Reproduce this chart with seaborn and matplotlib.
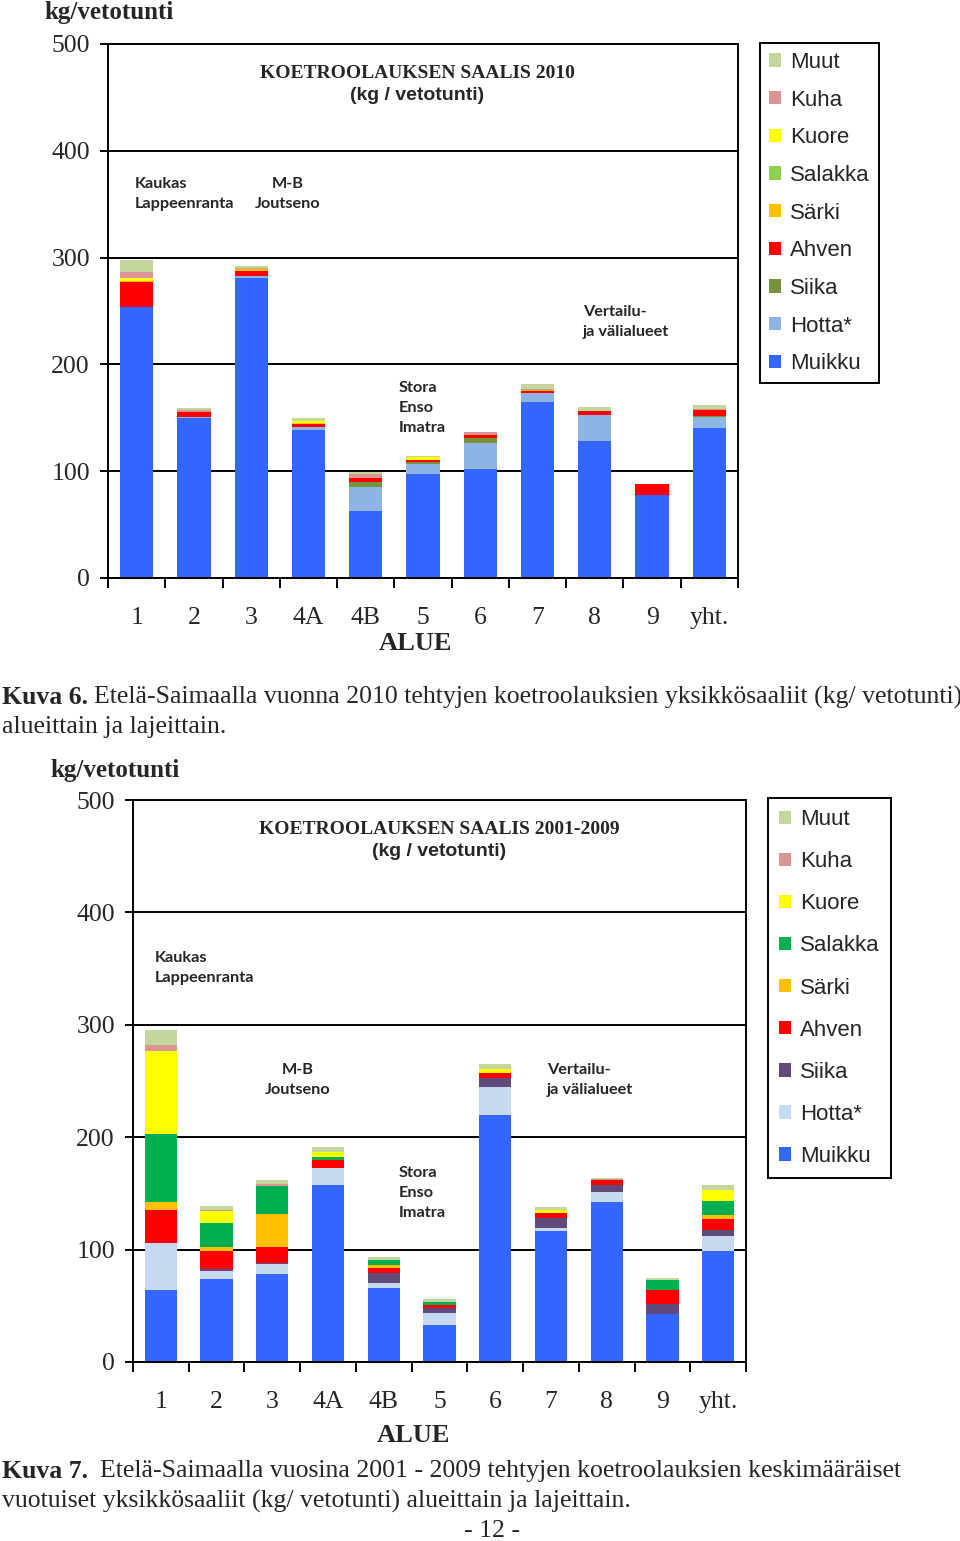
import numpy as np
import pandas as pd
import matplotlib
matplotlib.use("Agg")
import matplotlib.pyplot as plt
import seaborn as sns
from matplotlib.patches import Patch

alueet = ['1', '2', '3', '4A', '4B', '5', '6', '7', '8', '9', 'yht.']
lajit = ['Muikku', 'Hotta*', 'Siika', 'Ahven', 'Särki', 'Salakka', 'Kuore', 'Kuha', 'Muut']

# Kuva 6: vuosi 2010 (kg/vetotunti)
muikku_2010 = [254, 149.5, 280.5, 139, 63, 97, 102.5, 165, 128.5, 77.5, 140.5]
hotta_2010 = [0, 1.5, 2, 2, 22, 10, 24, 8, 24, 0, 10]
siika_2010 = [0, 0, 0, 0, 4.5, 1.5, 5, 0, 0, 0, 1]
ahven_2010 = [23, 4, 5, 3.5, 4.5, 2, 2, 2, 3.5, 10.5, 6]
sarki_2010 = [1, 0, 1.5, 1, 0, 0, 0, 1, 0, 0, 0]
salakka_2010 = [0, 0, 0, 0, 0, 0, 0, 0, 0, 0, 0]
kuore_2010 = [3, 0, 0, 1.5, 0, 2.5, 0, 0, 0, 0, 0]
kuha_2010 = [5.5, 2, 1.5, 0, 3.5, 0, 3.5, 1, 0, 0, 0.5]
muut_2010 = [11, 2, 1.5, 3, 2, 1, 0, 5, 4, 0, 4]

# Kuva 7: vuodet 2001-2009 keskiarvo
muikku_0109 = [64.5, 74, 78.5, 157.5, 65.5, 33, 219.5, 116.5, 142, 42.5, 99]
hotta_0109 = [41.5, 7, 8.5, 15.5, 4.5, 11, 25, 3, 9.5, 0, 13]
siika_0109 = [0, 2, 1, 0, 9.5, 4, 8, 9, 6, 9, 5.5]
ahven_0109 = [29, 16, 14, 6.5, 4.5, 3, 4.5, 4, 4.5, 13, 9.5]
sarki_0109 = [7, 3.5, 29.5, 0, 2, 0, 0, 0, 0, 0, 4]
salakka_0109 = [61, 21, 25, 3, 4.5, 2, 0, 0, 0, 8.5, 12.5]
kuore_0109 = [73.5, 11, 0, 4.5, 0, 0, 4, 3, 0, 0, 9.5]
kuha_0109 = [5.5, 1, 2, 0, 0, 0, 0, 0, 1, 0, 0]
muut_0109 = [13, 3.5, 3, 4, 3, 3, 4.5, 2, 1, 1.5, 4.5]

colors_2010 = {
    'Muikku': '#3366FF', 'Hotta*': '#8EB4E3', 'Siika': '#77933C',
    'Ahven': '#FF0000', 'Särki': '#FFC000', 'Salakka': '#92D050',
    'Kuore': '#FFFF00', 'Kuha': '#D99694', 'Muut': '#C3D69B',
}
colors_0109 = {
    'Muikku': '#3366FF', 'Hotta*': '#C6D9F1', 'Siika': '#604A7B',
    'Ahven': '#FF0000', 'Särki': '#FFC000', 'Salakka': '#00B050',
    'Kuore': '#FFFF00', 'Kuha': '#D99694', 'Muut': '#C3D69B',
}

SERIF = 'Liberation Serif'
SANS = 'Liberation Sans'
LABEL = 'Lato'

sns.set_theme(style="white")
plt.rcParams['font.family'] = [SERIF, 'DejaVu Serif']

W, H = 960, 1541
fig = plt.figure(figsize=(W / 100, H / 100), dpi=100)


def px_axes(left, top, right, bottom):
    return fig.add_axes([left / W, 1 - bottom / H, (right - left) / W, (bottom - top) / H])


def draw_chart(ax, data, colors):
    df = pd.DataFrame(data, index=alueet)
    cum = df[lajit].cumsum(axis=1)
    # draw cumulative totals from top layer down so lower layers overlay
    for laji in reversed(lajit):
        sns.barplot(x=alueet, y=cum[laji].values, order=alueet, color=colors[laji],
                    saturation=1, width=0.58, linewidth=0, ax=ax)
    ax.set_xlim(-0.5, len(alueet) - 0.5)
    ax.set_ylim(0, 500)
    ax.set_yticks([0, 100, 200, 300, 400, 500])
    ax.set_yticklabels(['0', '100', '200', '300', '400', '500'])
    ax.yaxis.grid(True, color='black', linewidth=1.4)
    ax.xaxis.grid(False)
    ax.set_axisbelow(True)
    for s in ax.spines.values():
        s.set_visible(True)
        s.set_color('black')
        s.set_linewidth(1.4)
    ax.set_xticks(range(len(alueet)))
    ax.set_xticklabels(alueet)
    ax.set_xticks(np.arange(-0.5, len(alueet), 1), minor=True)
    ax.tick_params(axis='x', which='major', length=0, pad=21, labelsize=18.5)
    ax.tick_params(axis='x', which='minor', length=7, width=1.4, color='black', direction='out', bottom=True)
    ax.tick_params(axis='y', length=6, width=1.4, color='black', direction='out', pad=7,
                   labelsize=18.5, left=True)
    ax.set_xlabel('')
    ax.set_ylabel('')
    for lab in ax.get_xticklabels() + ax.get_yticklabels():
        lab.set_fontfamily(SERIF)


def add_legend(colors, left, top, spacing, pad):
    handles = [Patch(facecolor=colors[l], edgecolor='none', label=l) for l in reversed(lajit)]
    leg = fig.legend(handles=handles, loc='upper left', bbox_to_anchor=(left / W, 1 - top / H),
                     bbox_transform=fig.transFigure, frameon=True, fancybox=False,
                     borderaxespad=0, handlelength=0.55, handleheight=0.55, handletextpad=0.4,
                     labelspacing=spacing, borderpad=pad, prop={'family': SANS, 'size': 16})
    leg.get_frame().set_edgecolor('black')
    leg.get_frame().set_linewidth(1.4)
    leg.get_frame().set_alpha(1)


data_2010 = {
    'Muikku': muikku_2010, 'Hotta*': hotta_2010, 'Siika': siika_2010,
    'Ahven': ahven_2010, 'Särki': sarki_2010, 'Salakka': salakka_2010,
    'Kuore': kuore_2010, 'Kuha': kuha_2010, 'Muut': muut_2010,
}
data_0109 = {
    'Muikku': muikku_0109, 'Hotta*': hotta_0109, 'Siika': siika_0109,
    'Ahven': ahven_0109, 'Särki': sarki_0109, 'Salakka': salakka_0109,
    'Kuore': kuore_0109, 'Kuha': kuha_0109, 'Muut': muut_0109,
}

# ==========================================================
# Kuva 6
# ==========================================================
ax1 = px_axes(108, 44, 738, 578)
draw_chart(ax1, data_2010, colors_2010)
add_legend(colors_2010, 760, 43, 0.75, 0.4)

fig.text(44 / W, 1 - 13 / H, 'kg/vetotunti', family=SERIF, weight='bold', size=18, va='center')
fig.text(415 / W, 1 - 643 / H, 'ALUE', family=SERIF, weight='bold', size=19, ha='center', va='center')
fig.text(417 / W, 1 - 74 / H, 'KOETROOLAUKSEN SAALIS 2010', family=SERIF, weight='bold', size=14,
         ha='center', va='center')
fig.text(417 / W, 1 - 96 / H, '(kg / vetotunti)', family=SANS, weight='bold', size=14,
         ha='center', va='center')
fig.text(135 / W, 1 - 194 / H, 'Kaukas\nLappeenranta', family=LABEL, weight='bold', size=11.7,
         ha='left', va='center', linespacing=1.55)
fig.text(288 / W, 1 - 194 / H, 'M-B\nJoutseno', family=LABEL, weight='bold', size=11.7,
         ha='center', va='center', linespacing=1.55)
fig.text(399 / W, 1 - 408 / H, 'Stora\nEnso\nImatra', family=LABEL, weight='bold', size=11.7,
         ha='left', va='center', linespacing=1.55)
fig.text(583 / W, 1 - 322 / H, 'Vertailu-\nja välialueet', family=LABEL, weight='bold', size=11.7,
         ha='left', va='center', linespacing=1.55)

fig.text(2 / W, 1 - 697 / H, 'Kuva 6.', family=SERIF, weight='bold', size=18.5, va='center')
fig.text(94 / W, 1 - 697 / H,
         'Etelä-Saimaalla vuonna 2010 tehtyjen koetroolauksien yksikkösaaliit (kg/ vetotunti)',
         family=SERIF, size=18.5, va='center')
fig.text(2 / W, 1 - 727 / H, 'alueittain ja lajeittain.', family=SERIF, size=18.5, va='center')

# ==========================================================
# Kuva 7
# ==========================================================
ax2 = px_axes(133, 800, 746, 1362)
draw_chart(ax2, data_0109, colors_0109)
add_legend(colors_0109, 768, 798, 0.95, 0.5)

fig.text(50 / W, 1 - 770 / H, 'kg/vetotunti', family=SERIF, weight='bold', size=18, va='center')
fig.text(413 / W, 1 - 1436 / H, 'ALUE', family=SERIF, weight='bold', size=19, ha='center', va='center')
fig.text(439 / W, 1 - 829 / H, 'KOETROOLAUKSEN SAALIS 2001-2009', family=SERIF, weight='bold', size=14,
         ha='center', va='center')
fig.text(439 / W, 1 - 851 / H, '(kg / vetotunti)', family=SANS, weight='bold', size=14,
         ha='center', va='center')
fig.text(155 / W, 1 - 968 / H, 'Kaukas\nLappeenranta', family=LABEL, weight='bold', size=11.7,
         ha='left', va='center', linespacing=1.55)
fig.text(298 / W, 1 - 1080 / H, 'M-B\nJoutseno', family=LABEL, weight='bold', size=11.7,
         ha='center', va='center', linespacing=1.55)
fig.text(399 / W, 1 - 1193 / H, 'Stora\nEnso\nImatra', family=LABEL, weight='bold', size=11.7,
         ha='left', va='center', linespacing=1.55)
fig.text(547 / W, 1 - 1080 / H, 'Vertailu-\nja välialueet', family=LABEL, weight='bold', size=11.7,
         ha='left', va='center', linespacing=1.55)

fig.text(2 / W, 1 - 1471 / H, 'Kuva 7.', family=SERIF, weight='bold', size=18.5, va='center')
fig.text(100 / W, 1 - 1471 / H,
         'Etelä-Saimaalla vuosina 2001 - 2009 tehtyjen koetroolauksien keskimääräiset',
         family=SERIF, size=18.5, va='center')
fig.text(2 / W, 1 - 1501 / H, 'vuotuiset yksikkösaaliit (kg/ vetotunti) alueittain ja lajeittain.',
         family=SERIF, size=18.5, va='center')
fig.text(492 / W, 1 - 1531 / H, '- 12 -', family=SERIF, size=18.5, ha='center', va='center')

fig.savefig('out.png', dpi=100)
